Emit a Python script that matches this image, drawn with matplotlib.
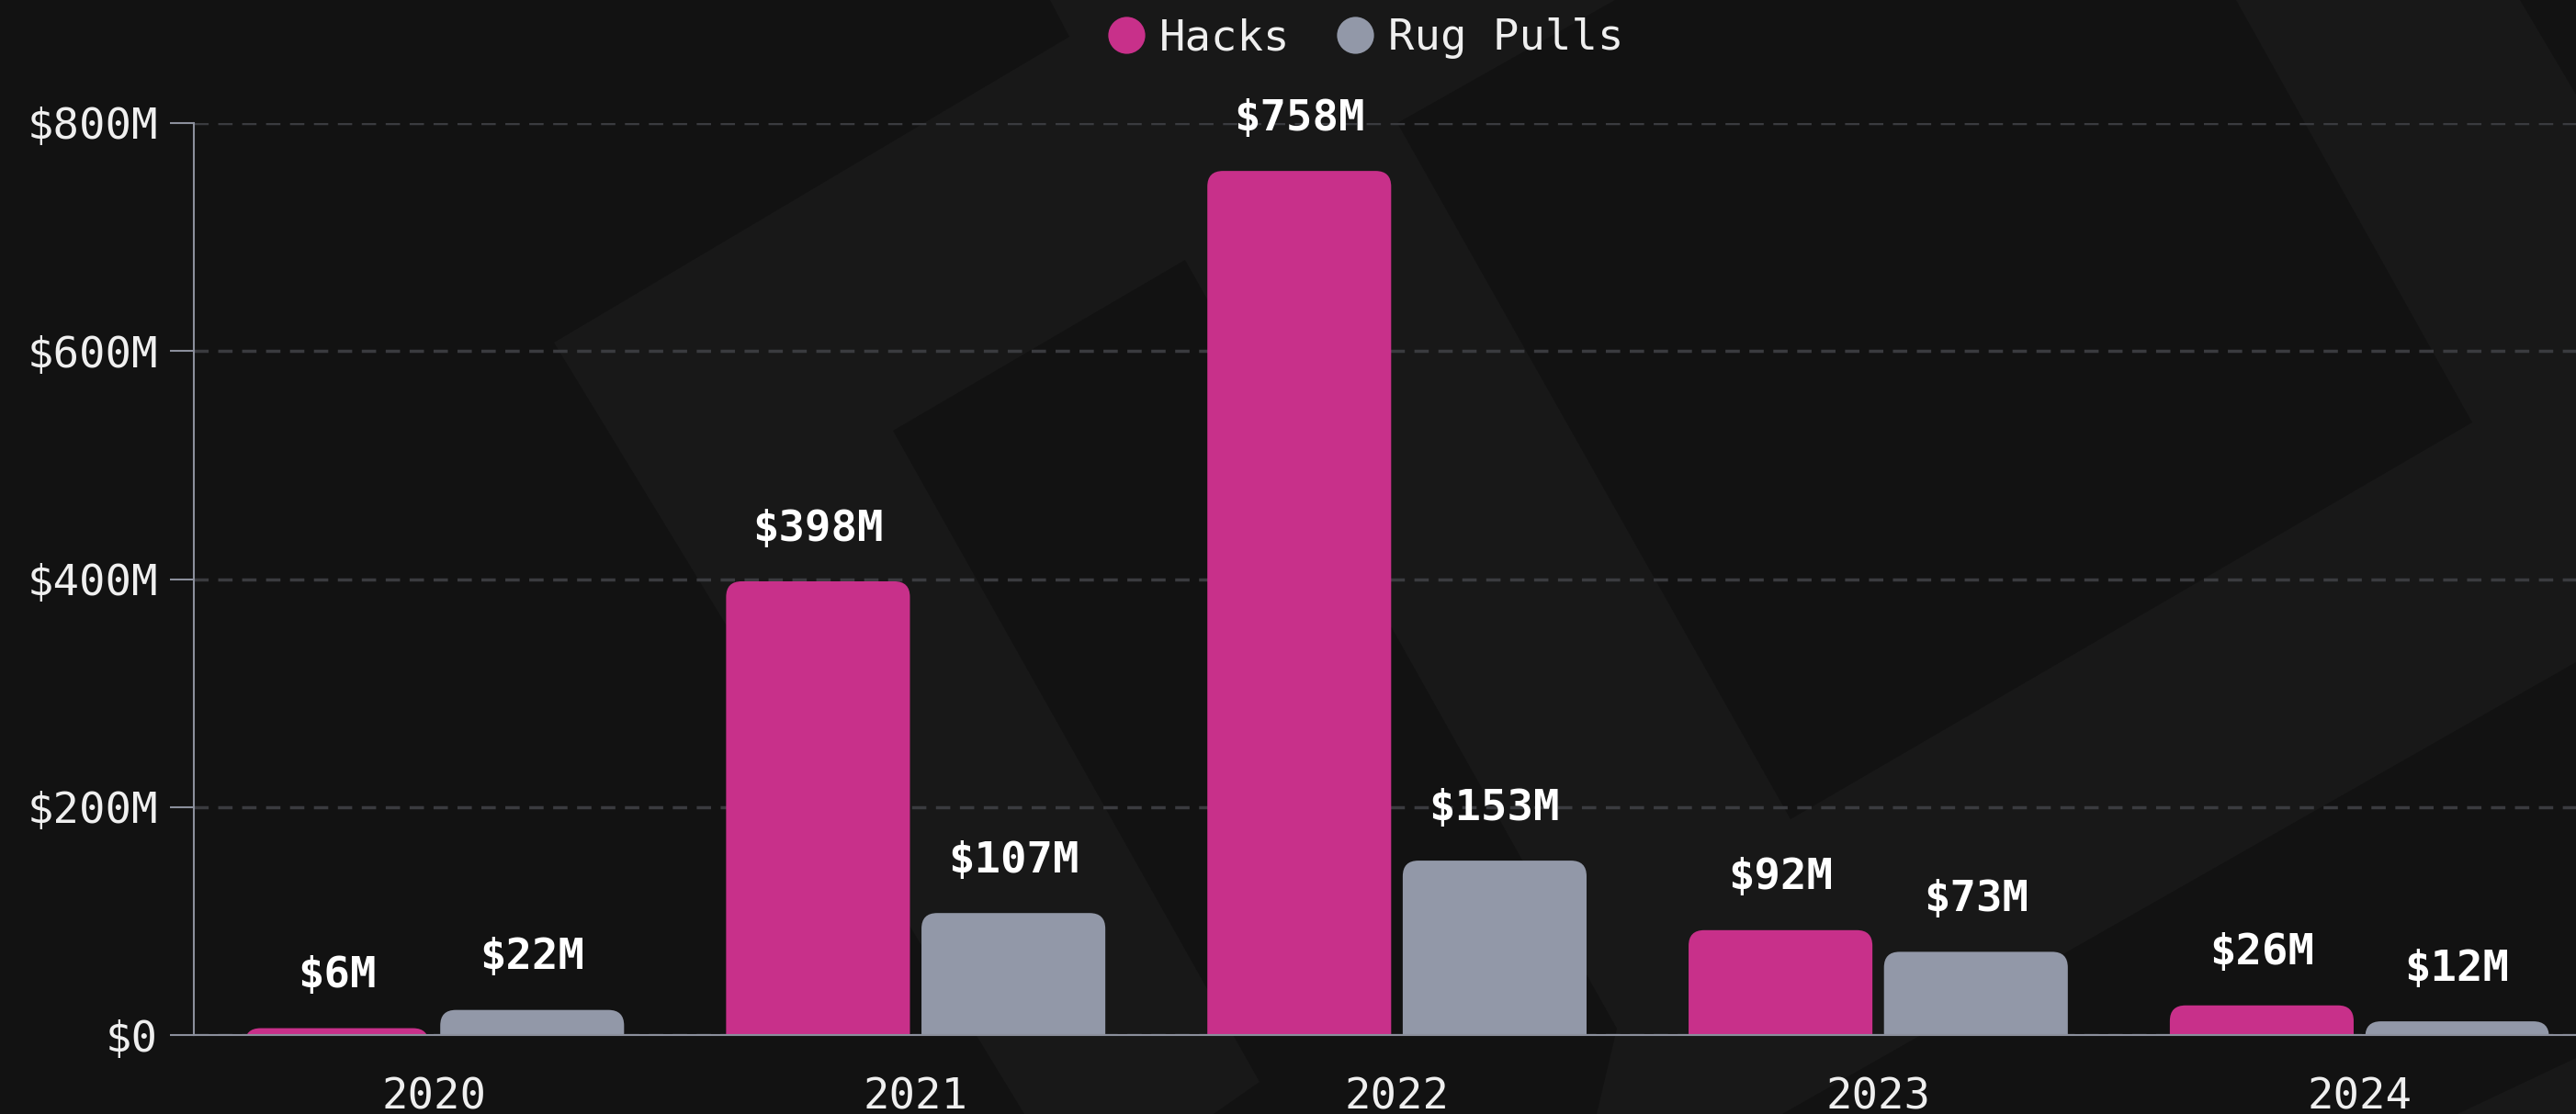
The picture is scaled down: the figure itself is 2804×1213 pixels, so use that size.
import numpy as np
import matplotlib.pyplot as plt
from matplotlib.lines import Line2D
from matplotlib.patches import FancyBboxPatch, Polygon

years = ['2020', '2021', '2022', '2023', '2024']
hacks = [6, 398, 758, 92, 26]
rug_pulls = [22, 107, 153, 73, 12]
yticks = [0, 200, 400, 600, 800]
ytick_labels = ['$0', '$200M', '$400M', '$600M', '$800M']

HACK_COLOR = '#c8308a'
RUG_COLOR = '#9298a8'
BG_DARK = '#121212'
BG_LIGHT = '#181818'
AXIS_COLOR = '#8b8f9c'
GRID_COLOR = '#3a3b3f'
TEXT_COLOR = '#efefef'

plt.rcParams['font.family'] = ['DejaVu Sans Mono', 'DejaVu Sans']

W, H = 2804, 1213
fig = plt.figure(figsize=(W / 100, H / 100), dpi=100, facecolor=BG_DARK)

# faint backdrop shapes, pixel coords measured from the top-left corner
light_shapes = [
    [(1143, 0), (1164, 40), (603, 373), (1115, 1213), (1940, 1213),
     (2804, 721), (2804, 103), (2743, 0)],
    [(2675, 1213), (2804, 1152), (2804, 1213)],
]
dark_shapes = [
    [(1290, 283), (972, 469), (1371, 1178), (1321, 1213), (1738, 1213), (1760, 1120)],
    [(1758, 0), (1521, 134), (1949, 892), (2691, 460), (2434, 0)],
]


def add_shape(pts, color):
    xy = [(px / W, 1 - py / H) for px, py in pts]
    fig.add_artist(Polygon(xy, closed=True, transform=fig.transFigure,
                           facecolor=color, edgecolor='none', zorder=-5))


for pts in light_shapes:
    add_shape(pts, BG_LIGHT)
for pts in dark_shapes:
    add_shape(pts, BG_DARK)

ax = fig.add_axes([211 / W, (H - 1127) / H, 1 - 211 / W, (1127 - 134) / H])
ax.set_facecolor('none')

x = np.arange(len(years))
bw = 0.382
off = 0.203
b1 = ax.bar(x - off, hacks, bw, color=HACK_COLOR, label='Hacks')
b2 = ax.bar(x + off, rug_pulls, bw, color=RUG_COLOR, label='Rug Pulls')
ax.set_xlim(-0.5, 4.45)
ax.set_ylim(0, 800)

# swap the plain rectangles for ones with rounded top corners
xl, yl = ax.get_xlim(), ax.get_ylim()
px_per_x = ax.bbox.width / (xl[1] - xl[0])
px_per_y = ax.bbox.height / (yl[1] - yl[0])
aspect = px_per_x / px_per_y
radius_px = 17
r = radius_px / px_per_x
ext = 2.5 * radius_px / px_per_y
for bars in (b1, b2):
    for rect in bars:
        x0, w, h = rect.get_x(), rect.get_width(), rect.get_height()
        rect.set_visible(False)
        ax.add_patch(FancyBboxPatch((x0, -ext), w, h + ext,
                                    boxstyle=f'round,pad=0,rounding_size={r}',
                                    mutation_aspect=aspect,
                                    facecolor=rect.get_facecolor(),
                                    edgecolor='none', zorder=2))

for bars, vals in ((b1, hacks), (b2, rug_pulls)):
    for rect, v in zip(bars, vals):
        ax.annotate(f'${v}M', (rect.get_x() + rect.get_width() / 2, v),
                    xytext=(0, 41), textcoords='offset points',
                    ha='center', va='center', fontsize=34,
                    fontweight='bold', color='white')

ax.set_yticks(yticks, ytick_labels)
ax.set_xticks(x, years)
ax.tick_params(axis='y', length=19, width=1.5, color=AXIS_COLOR, pad=9,
               labelsize=34, labelcolor=TEXT_COLOR)
ax.tick_params(axis='x', length=0, pad=33, labelsize=34, labelcolor=TEXT_COLOR)
ax.grid(axis='y', color=GRID_COLOR, linewidth=2.5, linestyle=(0, (4.5, 3)))
ax.grid(axis='x', visible=False)
ax.set_axisbelow(True)
for s in ('top', 'right'):
    ax.spines[s].set_visible(False)
for s in ('left', 'bottom'):
    ax.spines[s].set_color(AXIS_COLOR)
    ax.spines[s].set_linewidth(1.5)

handles = [Line2D([], [], marker='o', linestyle='none', markersize=29,
                  markerfacecolor=c, markeredgecolor='none')
           for c in (HACK_COLOR, RUG_COLOR)]
fig.legend(handles, ['Hacks', 'Rug Pulls'], loc='center',
           bbox_to_anchor=(1485 / W, 1 - 42 / H), ncol=2, frameon=False,
           fontsize=34, labelcolor=TEXT_COLOR, handlelength=1.0,
           handletextpad=0.25, columnspacing=1.0, borderpad=0, borderaxespad=0)

fig.savefig('out.png', dpi=100, facecolor=fig.get_facecolor())
